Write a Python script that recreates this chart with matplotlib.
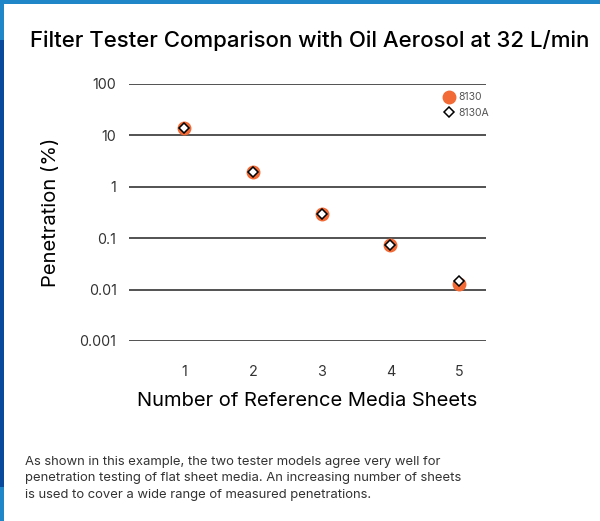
# Filter tester comparison, oil aerosol
import matplotlib.pyplot as plt
from matplotlib.patches import Rectangle

plt.rcParams['font.family'] = ['Inter', 'DejaVu Sans']

sheets = [1, 2, 3, 4, 5]
pen_8130 = [14.1, 1.96, 0.30, 0.073, 0.0131]
pen_8130a = [14.1, 1.96, 0.30, 0.073, 0.0145]
yticks = [0.001, 0.01, 0.1, 1, 10, 100]
ytick_labels = ['0.001', '0.01', '0.1', '1', '10', '100']

fig = plt.figure(figsize=(6, 5.21), dpi=100)
ax = fig.add_axes([0.215, 0.3455, 0.595, 0.4933])

ax.set_yscale('log')
ax.set_ylim(0.001, 100)
ax.set_xlim(0.2, 5.39)
ax.set_yticks(yticks)
ax.set_yticklabels(ytick_labels)
ax.minorticks_off()
ax.set_xticks(sheets)
ax.tick_params(length=0, labelsize=10.3, colors='#333333')
ax.tick_params(axis='y', pad=9)
ax.tick_params(axis='x', pad=17)
for s in ax.spines.values():
    s.set_visible(False)
for y in yticks:
    ax.axhline(y, color='#444444', lw=1.3, zorder=1)

ax.plot(sheets, pen_8130, 'o', ms=9, color='#f26a35', mec='#f26a35',
        label='8130', zorder=3, clip_on=False)
ax.plot(sheets, pen_8130a, 'D', ms=5.5, mfc='white', mec='black', mew=1.1,
        label='8130A', zorder=4, clip_on=False)

leg = ax.legend(loc='upper left', bbox_to_anchor=(0.868, 0.984), frameon=False,
                fontsize=7.5, handletextpad=0.3, labelspacing=0.55,
                handlelength=1.2, borderaxespad=0)
for t in leg.get_texts():
    t.set_color('#555555')

ax.set_ylabel('Penetration (%)', fontsize=14.5, labelpad=14)
ax.set_xlabel('Number of Reference Media Sheets', fontsize=14.5, labelpad=10)

fig.text(30 / 600, 1 - 47 / 521, 'Filter Tester Comparison with Oil Aerosol at 32 L/min',
         fontsize=16, fontweight='medium', va='baseline', ha='left')

fig.text(25 / 600, 1 - 456 / 521,
         'As shown in this example, the two tester models agree very well for\n'
         'penetration testing of flat sheet media. An increasing number of sheets\n'
         'is used to cover a wide range of measured penetrations.',
         fontsize=9.4, color='#333333', va='top', ha='left', linespacing=1.5)

# blue frame
H = 521
fig.add_artist(Rectangle((0, 1 - 4 / H), 1, 4 / H, transform=fig.transFigure,
                         color='#1f86c8', lw=0))
fig.add_artist(Rectangle((0, 0), 4 / 600, 1, transform=fig.transFigure,
                         color='#1f86c8', lw=0))
fig.add_artist(Rectangle((0, 1 - 487 / H), 4 / 600, 447 / H, transform=fig.transFigure,
                         color='#0a4a9c', lw=0))

fig.savefig('out.png', dpi=100)
